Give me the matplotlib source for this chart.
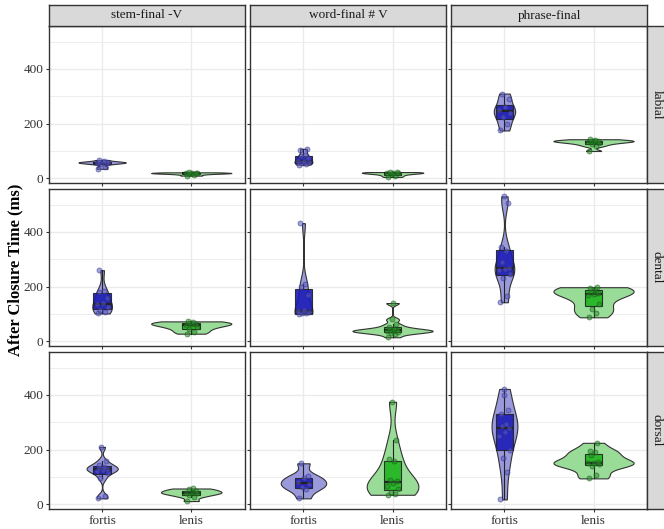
import numpy as np
import matplotlib
matplotlib.use("Agg")
import matplotlib.pyplot as plt

plt.rcParams['font.family'] = ['Liberation Serif', 'DejaVu Serif']

contexts = ['stem-final -V', 'word-final # V', 'phrase-final']
places = ['labial', 'dental', 'dorsal']
groups = ['fortis', 'lenis']

# After closure time (ms); each list holds stem-final, word-final, phrase-final
labial_fortis = [
    [35, 42, 52, 55, 56, 58, 59, 60, 62, 67],
    [50, 52, 55, 60, 62, 65, 75, 80, 85, 105, 108],
    [175, 200, 225, 240, 250, 260, 290, 310],
]
labial_lenis = [
    [10, 14, 17, 18, 19, 20, 21, 22],
    [5, 10, 15, 18, 20, 21, 22, 23],
    [100, 118, 125, 130, 133, 135, 137, 138, 140, 143],
]
dental_fortis = [
    [102, 108, 115, 125, 135, 140, 160, 180, 185, 260],
    [100, 102, 104, 107, 110, 113, 170, 200, 210, 432],
    [143, 165, 230, 245, 260, 265, 268, 290, 330, 345, 505, 530],
]
dental_lenis = [
    [28, 35, 45, 52, 58, 62, 65, 68, 70, 73],
    [15, 28, 32, 35, 37, 38, 40, 42, 45, 52, 62, 80, 140],
    [88, 105, 120, 135, 168, 172, 178, 185, 190, 195, 198],
]
dorsal_fortis = [
    [22, 30, 95, 115, 122, 126, 130, 134, 138, 145, 160, 210],
    [22, 55, 62, 75, 82, 95, 105, 150],
    [18, 120, 170, 200, 250, 265, 278, 285, 295, 330, 345, 400, 422],
]
dorsal_lenis = [
    [12, 28, 35, 40, 43, 45, 50, 55, 58],
    [35, 38, 45, 55, 68, 78, 85, 90, 158, 165, 235, 375],
    [95, 108, 140, 148, 150, 152, 155, 180, 190, 195, 225],
]

fortis_by_place = [labial_fortis, dental_fortis, dorsal_fortis]
lenis_by_place = [labial_lenis, dental_lenis, dorsal_lenis]

# widest point of each violin, in category units
fortis_width = [[0.53, 0.20, 0.24], [0.22, 0.20, 0.22], [0.35, 0.51, 0.29]]
lenis_width = [[0.90, 0.69, 0.90], [0.90, 0.90, 0.90], [0.68, 0.58, 0.90]]

violin_fill = {'fortis': '#9999dc', 'lenis': '#98dc98'}
box_fill = {'fortis': '#1c1cb8', 'lenis': '#1fb51f'}
point_fill = {'fortis': '#5a5ac0', 'lenis': '#2a8a2a'}
point_edge = {'fortis': '#2a2a80', 'lenis': '#145214'}


def density(vals):
    # gaussian kde with R's bw.nrd0, trimmed to the data range
    v = np.asarray(vals, float)
    n = len(v)
    sd = v.std(ddof=1)
    q75, q25 = np.percentile(v, [75, 25])
    spread = min(sd, (q75 - q25) / 1.34) if q75 > q25 else sd
    bw = 0.9 * spread * n ** -0.2
    y = np.linspace(v.min(), v.max(), 512)
    d = np.exp(-0.5 * ((y[:, None] - v[None, :]) / bw) ** 2).sum(1)
    d /= n * bw * np.sqrt(2 * np.pi)
    return y, d


W, H = 664, 529
fig = plt.figure(figsize=(W / 100, H / 100), dpi=100)

col_left = [48.7, 250.0, 451.0]
row_top = [26.0, 189.0, 352.0]
pw, ph = 196.0, 157.0
jitter = [-0.05, 0.03, -0.02, 0.06, -0.06, 0.01, 0.05, -0.03, 0.02, -0.04, 0.04, -0.01, 0.0]

for r, place in enumerate(places):
    for c, ctx in enumerate(contexts):
        ax = fig.add_axes([col_left[c] / W, 1 - (row_top[r] + ph) / H, pw / W, ph / H])
        data = {'fortis': fortis_by_place[r][c], 'lenis': lenis_by_place[r][c]}
        widths = {'fortis': fortis_width[r][c], 'lenis': lenis_width[r][c]}

        for i, g in enumerate(groups):
            x = i + 1
            y, d = density(data[g])
            half = d / d.max() * widths[g] / 2
            ax.fill_betweenx(y, x - half, x + half, facecolor=violin_fill[g],
                             edgecolor='#333333', linewidth=0.8, zorder=2)
            ax.boxplot([data[g]], positions=[x], widths=0.2, patch_artist=True,
                       showfliers=False, showcaps=False, whis=1.5,
                       boxprops=dict(facecolor=box_fill[g], edgecolor='#222222',
                                     linewidth=0.8, alpha=0.9),
                       medianprops=dict(color='#222222', linewidth=1.6),
                       whiskerprops=dict(color='#222222', linewidth=0.8),
                       zorder=3)
            vals = data[g]
            offs = np.array(jitter[:len(vals)])
            ax.scatter(x + offs, vals, s=13, facecolor=point_fill[g],
                       edgecolor=point_edge[g], linewidth=0.6, alpha=0.55, zorder=4)

        ax.set_xlim(0.4, 2.6)
        ax.set_ylim(-17, 557)
        ax.set_xticks([1, 2])
        ax.set_yticks([0, 200, 400])
        ax.set_yticks([100, 300, 500], minor=True)
        ax.grid(True, which='major', color='#ebebeb', linewidth=1.0, zorder=0)
        ax.grid(True, which='minor', axis='y', color='#ebebeb', linewidth=0.6, zorder=0)
        ax.set_axisbelow(True)
        for s in ax.spines.values():
            s.set_color('#333333')
            s.set_linewidth(1.0)
        ax.tick_params(which='major', length=2.5, color='#333333', labelsize=9.5,
                       labelcolor='#333333', pad=1.5)
        ax.tick_params(which='minor', length=0)
        if r == 2:
            ax.set_xticklabels(groups)
        else:
            ax.set_xticklabels([])
        if c > 0:
            ax.set_yticklabels([])

        if r == 0:
            sx = fig.add_axes([col_left[c] / W, 1 - row_top[0] / H, pw / W, 21.0 / H])
            sx.set_facecolor('#d9d9d9')
            sx.set_xticks([])
            sx.set_yticks([])
            for s in sx.spines.values():
                s.set_color('#333333')
                s.set_linewidth(1.0)
            sx.text(0.5, 0.5, ctx, ha='center', va='center', fontsize=9.5,
                    color='#1a1a1a', transform=sx.transAxes)
        if c == 2:
            sy = fig.add_axes([647.0 / W, 1 - (row_top[r] + ph) / H, 22.0 / W, ph / H])
            sy.set_facecolor('#d9d9d9')
            sy.set_xticks([])
            sy.set_yticks([])
            for s in sy.spines.values():
                s.set_color('#333333')
                s.set_linewidth(1.0)
            sy.text(0.45, 0.5, place, ha='center', va='center', fontsize=9.5,
                    rotation=270, color='#1a1a1a', transform=sy.transAxes)

fig.text(15 / W, 1 - 270 / H, 'After Closure Time (ms)', rotation=90,
         ha='center', va='center', fontsize=12, fontweight='bold')

fig.savefig('out.png', dpi=100)
